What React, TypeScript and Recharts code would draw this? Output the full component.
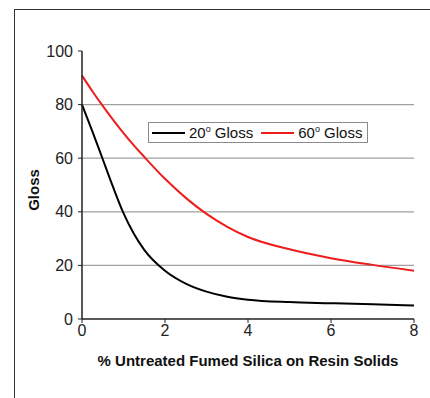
import React from 'react'
import { LineChart, Line, XAxis, YAxis, CartesianGrid, Legend, Label } from 'recharts'

const loadings = [0, 0.25, 0.5, 0.75, 1, 1.25, 1.5, 2, 2.5, 3, 3.5, 4, 5, 6, 7, 8]
const gloss20 = [80, 70, 59.6, 49.2, 39.5, 31.8, 25.8, 18, 13.2, 10.2, 8.3, 7.2, 6.3, 5.9, 5.5, 5]
const gloss60 = [90.8, 85, 79.5, 74.3, 69.4, 64.8, 60.5, 52.3, 45.2, 39.2, 34.4, 30.6, 26, 22.7, 20.2, 18]

const xTicks = [0, 2, 4, 6, 8]
const xMinor = [1, 3, 5, 7]
const yTicks = [0, 20, 40, 60, 80, 100]
const yMinor = [10, 30, 50, 70, 90]
const gridValues = [20, 40, 60, 80]

const FONT = '"Liberation Sans", Arial, sans-serif'

const data = loadings.map((x, i) => ({ x, g20: gloss20[i], g60: gloss60[i] }))

const legendItems = [
  { label: '20', color: '#000000' },
  { label: '60', color: '#ee1c1c' },
]

function GlossLegend() {
  return (
    <div style={{
      display: 'flex', alignItems: 'center', border: '1px solid #8a8a8a', height: 19,
      width: 218, fontFamily: FONT, fontSize: 15, color: '#111', background: '#fff', whiteSpace: 'nowrap',
    }}>
      {legendItems.map(item => (
        <div key={item.label} style={{ display: 'flex', alignItems: 'center', marginLeft: 3, marginRight: 5, flexShrink: 0 }}>
          <span style={{ display: 'inline-block', width: 33, height: 2, background: item.color, marginRight: 4 }} />
          <span>{item.label}<sup style={{ fontSize: 9 }}>o</sup> Gloss</span>
        </div>
      ))}
    </div>
  )
}

export default function App() {
  return (
    <div style={{ position: 'absolute', left: 0, top: 0, width: 430, height: 398, background: '#fff', overflow: 'hidden' }}>
      <div style={{
        position: 'absolute', left: 14, top: 9, width: 500, height: 500,
        borderLeft: '1.5px solid #333', borderTop: '1.5px solid #333',
      }} />
      <LineChart width={430} height={398} data={data} margin={{ top: 51, right: 16, bottom: 0, left: 0 }}>
        <CartesianGrid horizontalValues={gridValues} vertical={false} stroke="#a0a0a0" strokeWidth={1.2} />
        <XAxis xAxisId="minor" dataKey="x" type="number" domain={[0, 8]} ticks={xMinor} height={0}
          tick={false} tickSize={3} axisLine={false} tickLine={{ stroke: '#222' }} />
        <XAxis dataKey="x" type="number" domain={[0, 8]} ticks={xTicks} height={79} tickSize={4}
          axisLine={{ stroke: '#222', strokeWidth: 1.5 }} tickLine={{ stroke: '#222' }}
          tick={{ fontSize: 16, fill: '#222', fontFamily: FONT }}>
          <Label value="% Untreated Fumed Silica on Resin Solids" position="insideBottom" offset={32}
            style={{ fontSize: 15, fontWeight: 700, fill: '#111', fontFamily: FONT }} />
        </XAxis>
        <YAxis yAxisId="minor" domain={[0, 100]} ticks={yMinor} width={0} tick={false} tickSize={3}
          axisLine={false} tickLine={{ stroke: '#222' }} />
        <YAxis domain={[0, 100]} ticks={yTicks} width={82} tickSize={4} tickMargin={5}
          axisLine={{ stroke: '#222', strokeWidth: 1.5 }} tickLine={{ stroke: '#222' }}
          tick={{ fontSize: 16, fill: '#222', fontFamily: FONT }}>
          <Label content={() => (
            <text x={33} y={190} transform="rotate(-90 33 190)" textAnchor="middle" dominantBaseline="central"
              style={{ fontSize: 15, fontWeight: 700, fill: '#111', fontFamily: FONT }}>Gloss</text>
          )} />
        </YAxis>
        <Legend content={<GlossLegend />} layout="horizontal" verticalAlign="middle" align="center"
          wrapperStyle={{ position: 'absolute', left: 148, top: 122, width: 220 }} />
        <Line type="monotone" dataKey="g20" stroke="#000000" strokeWidth={2} dot={false} isAnimationActive={false} />
        <Line type="monotone" dataKey="g60" stroke="#ee1c1c" strokeWidth={2} dot={false} isAnimationActive={false} />
      </LineChart>
    </div>
  )
}
